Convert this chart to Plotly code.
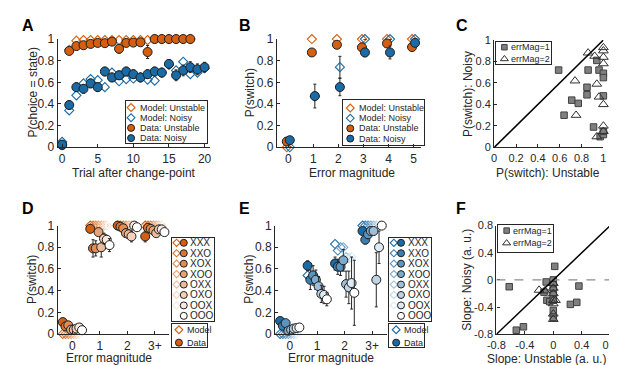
import plotly.graph_objects as go

W, H = 617, 365
FONT = "Liberation Sans, Arial, Helvetica, sans-serif"
INK = "#262626"
ORANGE = (212, 95, 16)
BLUE = (26, 106, 165)
EDGE = "#1e1e1e"

# ---------------- Panel A ----------------
A_x_unst = list(range(0, 19))
A_x_noisy = list(range(0, 21))
A_model_unst = [0.02, 0.90, 0.985, 0.99, 0.99, 0.99, 0.99, 0.99, 0.99, 0.99, 0.99, 0.99, 0.99,
                1.0, 1.0, 1.0, 1.0, 1.0, 1.0]
A_model_noisy = [0.05, 0.34, 0.48, 0.59, 0.63, 0.62, 0.555, 0.69, 0.61, 0.63, 0.635, 0.645, 0.625,
                 0.615, 0.69, 0.76, 0.71, 0.79, 0.675, 0.69, 0.73]
A_data_unst = [0.02, 0.89, 0.935, 0.943, 0.955, 0.964, 0.962, 0.976, 0.91, 0.964, 0.967, 0.97, 0.88,
               1.0, 1.0, 1.0, 1.0, 1.0, 1.0]
A_err_unst = [0.01, 0.03, 0.02, 0.02, 0.02, 0.02, 0.02, 0.015, 0.04, 0.02, 0.02, 0.02, 0.06,
              0.005, 0.005, 0.005, 0.005, 0.005, 0.005]
A_data_noisy = [0.024, 0.39, 0.555, 0.54, 0.59, 0.555, 0.70, 0.645, 0.665, 0.70, 0.675, 0.645, 0.675,
                0.70, 0.69, 0.77, 0.665, 0.71, 0.74, 0.72, 0.74]
A_err_noisy = [0.01, 0.04, 0.04, 0.04, 0.04, 0.04, 0.04, 0.04, 0.04, 0.04, 0.04, 0.04, 0.04,
               0.04, 0.04, 0.04, 0.05, 0.05, 0.05, 0.05, 0.045]

# ---------------- Panel B ----------------
B_x = [0, 1, 2, 3, 4, 5]
B_model_unst = [0.0, 1.0, 1.0, 1.0, 1.0, 1.0]
B_model_noisy = [0.0, 0.47, 0.74, 1.0, 1.0, 1.0]
B_model_noisy_err = [0, 0, 0.10, 0, 0, 0]
B_data_unst = [0.053, 0.876, 0.947, 0.923, 0.959, 0.926]
B_err_unst = [0.02, 0.02, 0.015, 0.025, 0.025, 0.02]
B_data_noisy = [0.065, 0.473, 0.556, 0.876, 0.876, 0.965]
B_err_noisy = [0.02, 0.11, 0.08, 0.04, 0.06, 0.03]

# ---------------- Panel C ----------------
C_sq_x = [0.59, 0.64, 0.71, 0.77, 0.85, 0.85, 0.86, 0.94, 0.96, 1.0, 1.0, 1.0, 0.91, 0.97, 1.0, 1.0]
C_sq_y = [0.72, 0.30, 0.44, 0.41, 0.56, 0.49, 0.72, 0.81, 0.72, 0.69, 0.65, 0.48, 0.19, 0.10, 0.12, 0.15]
C_tri_x = [0.86, 0.92, 0.74, 0.75, 0.94, 0.96, 1.0, 1.0, 1.0, 1.0, 1.0, 1.0, 0.94, 1.0]
C_tri_y = [0.88, 0.85, 0.62, 0.30, 0.59, 0.47, 0.93, 0.90, 0.84, 0.78, 0.40, 0.20, 0.10, 0.15]

# ---------------- Panels D / E ----------------
DE_groups = [0, 1, 2, 3]
DE_ticktext = ["0", "1", "2", "3+"]
conditions = ["XXX", "XXO", "XOX", "XOO", "OXX", "OXO", "OOX", "OOO"]

D_data = [[0.11, 0.97, 1.00, 0.90],
          [0.07, 0.79, 0.99, 0.98],
          [0.08, 0.79, 0.975, 0.97],
          [0.04, 0.94, 0.93, 0.955],
          [0.04, 0.80, 0.92, 0.93],
          [0.05, 0.88, 0.90, 0.965],
          [0.06, 0.87, 1.00, 0.965],
          [0.035, 0.82, 0.985, 0.94]]
D_err = [[0.03, 0.02, 0.01, 0.05],
         [0.03, 0.08, 0.02, 0.02],
         [0.03, 0.07, 0.02, 0.02],
         [0.02, 0.03, 0.04, 0.03],
         [0.02, 0.09, 0.04, 0.03],
         [0.02, 0.05, 0.05, 0.03],
         [0.02, 0.04, 0.02, 0.03],
         [0.02, 0.06, 0.02, 0.02]]
D_model = [[0.0, 1.0, 1.0, 1.0] for _ in conditions]

E_data = [[0.12, 0.63, 0.65, 0.95],
          [0.075, 0.50, 0.62, 0.87],
          [0.10, 0.54, 0.62, 0.92],
          [0.03, 0.50, 0.68, 0.95],
          [0.04, 0.44, 0.46, 0.95],
          [0.05, 0.37, 0.43, 0.50],
          [0.055, 0.36, 0.47, 0.80],
          [0.06, 0.32, 0.38, 1.00]]
E_err = [[0.03, 0.045, 0.06, 0.03],
         [0.03, 0.09, 0.07, 0.04],
         [0.03, 0.09, 0.08, 0.04],
         [0.02, 0.09, 0.10, 0.03],
         [0.02, 0.09, 0.12, 0.03],
         [0.02, 0.08, 0.15, 0.25],
         [0.02, 0.08, 0.24, 0.15],
         [0.02, 0.06, 0.30, 0.0]]
E_model = [[0.0, 0.54, 0.83, 1.0],
           [0.0, 0.51, 0.77, 1.0],
           [0.0, 0.54, 0.80, 1.0],
           [0.0, 0.50, 0.80, 1.0],
           [0.0, 0.44, 0.71, 1.0],
           [0.0, 0.37, 0.70, 1.0],
           [0.0, 0.36, 0.71, 1.0],
           [0.0, 0.32, 0.71, 1.0]]

# ---------------- Panel F ----------------
F_sq_x = [-0.62, -0.10, -0.13, -0.09, -0.05, 0.02, 0.0, 0.0, 0.0, 0.0, 0.0, 0.0, 0.0,
          0.24, 0.33, 0.36, -0.52, -0.42]
F_sq_y = [-0.10, -0.03, -0.18, -0.30, -0.32, 0.20, 0.0, -0.07, -0.15, -0.22, -0.30, -0.45, -0.55,
          -0.36, -0.33, -0.09, -0.74, -0.69]
F_tri_x = [-0.20, -0.12, 0.0, 0.0, 0.0, 0.0, 0.0, 0.0, 0.0, 0.03]
F_tri_y = [-0.15, -0.16, -0.05, -0.12, -0.20, -0.30, -0.35, -0.50, -0.58, -0.30]

# ======================================================================
def rgb(c):
    return "rgb(%d,%d,%d)" % c

def shade(base, t):
    return tuple(round(v + (255 - v) * t) for v in base)

def xd(a, b):
    return [a / W, b / W]

def yd(top, bot):
    return [1 - bot / H, 1 - top / H]

fig = go.Figure()
layout = {}
annotations = []
shapes = []

def data_axes(n, xdom, xrng, ydom, yrng, xticks, yticks, xtext=None, ytext=None, tsize=12):
    sx = "" if n == 1 else str(n)
    common = dict(showline=True, linecolor=INK, linewidth=1.3, ticks="inside", ticklen=3,
                  tickwidth=1, tickcolor=INK, showgrid=False, zeroline=False,
                  tickfont=dict(size=tsize, color=INK, family=FONT), fixedrange=True)
    layout["xaxis" + sx] = dict(domain=xd(*xdom), range=xrng, anchor="y" + sx,
                                tickmode="array", tickvals=xticks, ticktext=xtext, **common)
    layout["yaxis" + sx] = dict(domain=yd(*ydom), range=yrng, anchor="x" + sx,
                                tickmode="array", tickvals=yticks, ticktext=ytext, **common)

def ax(n):
    s = "" if n == 1 else str(n)
    return "x" + s, "y" + s

def err(arr):
    return dict(type="data", array=arr, visible=True, color=INK, thickness=1, width=1.5)

def add(n, x, y, marker, error=None):
    xa, ya = ax(n)
    fig.add_trace(go.Scatter(x=x, y=y, xaxis=xa, yaxis=ya, mode="markers", marker=marker,
                             error_y=error, showlegend=False, cliponaxis=False, hoverinfo="skip"))

def diamond(color, size=7):
    return dict(symbol="diamond-open", size=size, color=color, line=dict(width=1.1, color=color))

def circle(color, size=9):
    return dict(symbol="circle", size=size, color=color, line=dict(width=1, color=EDGE))

def text(t, x, y, size=12, angle=0, bold=False, xanchor="center", yanchor="middle", color=INK,
         xref="paper", yref="paper"):
    if xref == "paper":
        x = x / W
    if yref == "paper":
        y = 1 - y / H
    annotations.append(dict(text=("<b>%s</b>" % t) if bold else t, x=x, y=y, xref=xref, yref=yref,
                            showarrow=False, textangle=angle, xanchor=xanchor, yanchor=yanchor,
                            font=dict(size=size, color=color, family=FONT)))

# ---------------- axes ----------------
yt = [0, 0.2, 0.4, 0.6, 0.8, 1]
data_axes(1, (42, 198), [-0.6, 20.7], (25, 137.5), [0, 1], [0, 5, 10, 15, 20], yt)
data_axes(2, (267.4, 415.5), [-0.45, 5.3], (25, 137.5), [0, 1], B_x, yt)
data_axes(3, (490.7, 603), [0, 1], (26, 137.7), [0, 1], yt, yt, tsize=11)
data_axes(4, (42, 156.7), [-0.53, 3.53], (219, 331.7), [0, 1], DE_groups, yt, xtext=DE_ticktext)
data_axes(5, (265.5, 380.2), [-0.53, 3.53], (219, 331.7), [0, 1], DE_groups, yt, xtext=DE_ticktext)
ft = [-0.8, -0.4, 0, 0.4, 0.8]
ftt = ["-0.8", "-0.4", "0", "0.4", "0.8"]
data_axes(6, (493, 610), [-0.8, 0.8], (219, 332), [-0.8, 0.8], ft, ft, xtext=ftt, ytext=ftt, tsize=11)

# ---------------- Panel A traces ----------------
add(1, A_x_unst, A_model_unst, diamond(rgb(ORANGE)))
add(1, A_x_noisy, A_model_noisy, diamond(rgb(BLUE)))
add(1, A_x_unst, A_data_unst, circle(rgb(ORANGE)), err(A_err_unst))
add(1, A_x_noisy, A_data_noisy, circle(rgb(BLUE)), err(A_err_noisy))

# ---------------- Panel B traces ----------------
off = 0.06
add(2, [v - off for v in B_x], B_model_unst, diamond(rgb(ORANGE)))
add(2, [v + off for v in B_x], B_model_noisy, diamond(rgb(BLUE)), err(B_model_noisy_err))
add(2, [v - off for v in B_x], B_data_unst, circle(rgb(ORANGE)), err(B_err_unst))
add(2, [v + off for v in B_x], B_data_noisy, circle(rgb(BLUE)), err(B_err_noisy))

# ---------------- Panel C traces ----------------
shapes.append(dict(type="line", xref="x3", yref="y3", x0=0, y0=0, x1=1, y1=1,
                   line=dict(color="black", width=1.5)))
SQ = dict(symbol="square", size=6.5, color="#808080", line=dict(width=1, color="#404040"))
TRI = dict(symbol="triangle-up-open", size=8.5, color="#303030", line=dict(width=1, color="#303030"))
add(3, C_sq_x, C_sq_y, SQ)
add(3, C_tri_x, C_tri_y, TRI)

# ---------------- Panels D / E traces ----------------
def cond_panel(n, base, model, data, errs):
    nC = len(conditions)
    offs = [(k - (nC - 1) / 2) * 0.1 for k in range(nC)]
    for k in range(nC):
        c = rgb(shade(base, k / (nC - 1)))
        add(n, [g + offs[k] for g in DE_groups], model[k], diamond(c, 7))
    for k in range(nC):
        c = rgb(shade(base, k / (nC - 1)))
        add(n, [g + offs[k] for g in DE_groups], data[k], circle(c, 9), err(errs[k]))

cond_panel(4, ORANGE, D_model, D_data, D_err)
cond_panel(5, BLUE, E_model, E_data, E_err)

# ---------------- Panel F traces ----------------
shapes.append(dict(type="line", xref="x6", yref="y6", x0=-0.8, y0=0, x1=0.8, y1=0,
                   line=dict(color="#8c8c8c", width=1.3, dash="dash")))
shapes.append(dict(type="line", xref="x6", yref="y6", x0=-0.8, y0=-0.8, x1=0.8, y1=0.8,
                   line=dict(color="black", width=1.5)))
add(6, F_sq_x, F_sq_y, SQ)
add(6, F_tri_x, F_tri_y, TRI)

# ---------------- legends (boxes drawn as framed overlay axes) ----------------
legend_id = [7]

def legend(box, items, row0, dy, glyph_x, text_x, fs):
    x0, y0, x1, y1 = box
    n = legend_id[0]
    legend_id[0] += 1
    sx = str(n)
    frame = dict(showline=True, mirror=True, linecolor=INK, linewidth=1.3, ticks="",
                 showticklabels=False, showgrid=False, zeroline=False, fixedrange=True)
    layout["xaxis" + sx] = dict(domain=xd(x0, x1), range=[0, x1 - x0], anchor="y" + sx, **frame)
    layout["yaxis" + sx] = dict(domain=yd(y0, y1), range=[y1 - y0, 0], anchor="x" + sx, **frame)
    for i, (glyphs, label) in enumerate(items):
        yy = row0 + i * dy
        for gi, g in enumerate(glyphs):
            fig.add_trace(go.Scatter(x=[glyph_x[gi]], y=[yy], xaxis="x" + sx, yaxis="y" + sx,
                                     mode="markers", marker=g, showlegend=False,
                                     cliponaxis=False, hoverinfo="skip"))
        text(label, text_x, yy, size=fs, xanchor="left", xref="x" + sx, yref="y" + sx)

LEG4 = [([diamond(rgb(ORANGE), 6)], "Model: Unstable"),
        ([diamond(rgb(BLUE), 6)], "Model: Noisy"),
        ([circle(rgb(ORANGE), 7)], "Data: Unstable"),
        ([circle(rgb(BLUE), 7)], "Data: Noisy")]
legend((111.7, 89.3, 195, 133.3), LEG4, 6.9, 10.6, [5.6], 13.2, 9)
legend((335, 88.5, 419, 135), LEG4, 8.2, 10.6, [7.7], 14.2, 9)

SQL = dict(symbol="square", size=5.5, color="#808080", line=dict(width=1, color="#404040"))
TRL = dict(symbol="triangle-up-open", size=7, color="#303030", line=dict(width=1, color="#303030"))
LEGC = [([SQL], "errMag=1"), ([TRL], "errMag=2")]
legend((492.7, 28.3, 549, 50.7), LEGC, 5.2, 12.2, [8.5], 13.5, 9)
legend((495, 218, 551, 246), LEGC, 6.2, 13, [8.5], 13.5, 9)

def cond_legend(box_x, base):
    nC = len(conditions)
    items = []
    for k in range(nC):
        c = rgb(shade(base, k / (nC - 1)))
        items.append(([diamond(c, 5.5), circle(c, 7)], conditions[k]))
    legend((box_x, 231.7, box_x + 43.4, 318.3), items, 5.2, 10.85, [4.8, 12.2], 17.0, 10)
    items2 = [([diamond(rgb(base), 6)], "Model"), ([circle(rgb(base), 7)], "Data")]
    legend((box_x, 321.7, box_x + 35.7, 345.7), items2, 5.6, 13.4, [7.2], 13.2, 9)

cond_legend(159.3, ORANGE)
cond_legend(382.7, BLUE)

# ---------------- titles and panel letters ----------------
text("P(choice = state)", 16, 81, angle=-90)
text("Trial after change-point", 120, 164)
text("P(switch)", 239, 81, angle=-90)
text("Error magnitude", 344, 164)
text("P(switch): Noisy", 464, 82, angle=-90)
text("P(switch): Unstable", 546, 164)
text("P(switch)", 16, 275, angle=-90)
text("Error magnitude", 95, 357)
text("P(switch)", 239, 275, angle=-90)
text("Error magnitude", 322.5, 357)
text("Slope: Noisy (a. u.)", 463, 275, angle=-90)
text("Slope: Unstable (a. u.)", 544, 358)

for lab, px, py in [("A", 3, 0), ("B", 226, 0), ("C", 449, 0),
                    ("D", 3, 190), ("E", 226, 190), ("F", 449, 190)]:
    text(lab, px, py, size=16, bold=True, xanchor="left", yanchor="top", color="black")

fig.update_layout(width=W, height=H, margin=dict(l=0, r=0, t=0, b=0),
                  paper_bgcolor="white", plot_bgcolor="rgba(0,0,0,0)",
                  font=dict(family=FONT, color=INK), showlegend=False,
                  annotations=annotations, shapes=shapes, **layout)

fig.write_html("out.html")
